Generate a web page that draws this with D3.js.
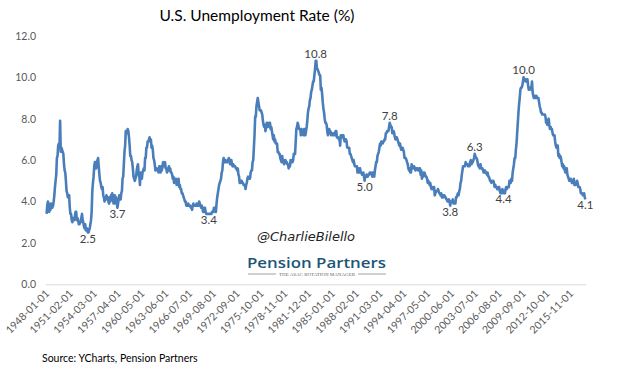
<!DOCTYPE html>
<html><head><meta charset="utf-8">
<script src="https://cdn.jsdelivr.net/npm/d3@7/dist/d3.min.js"></script>
<style>
html,body{margin:0;padding:0;background:#fff;}
svg{display:block;}
</style></head>
<body>
<svg id="chart" width="628" height="381"></svg>
<script>
const title = "U.S. Unemployment Rate (%)";
const startYear = 1948;
// Monthly U.S. unemployment rate, Jan 1948 - Oct 2017 (one row per year)
const rates = [
3.4,3.8,4.0,3.9,3.5,3.6,3.6,3.9,3.8,3.7,3.8,4.0,
4.3,4.7,5.0,5.3,6.1,6.2,6.7,6.8,6.6,7.9,6.4,6.6,
6.5,6.4,6.3,5.8,5.5,5.4,5.0,4.5,4.4,4.2,4.2,4.3,
3.7,3.4,3.4,3.1,3.0,3.2,3.1,3.1,3.3,3.5,3.5,3.1,
3.2,3.1,2.9,2.9,3.0,3.0,3.2,3.4,3.1,3.0,2.8,2.7,
2.9,2.6,2.6,2.7,2.5,2.5,2.6,2.7,2.9,3.1,3.5,4.5,
4.9,5.2,5.7,5.9,5.9,5.6,5.8,6.0,6.1,5.7,5.3,5.0,
4.9,4.7,4.6,4.7,4.3,4.2,4.0,4.2,4.1,4.3,4.2,4.2,
4.0,3.9,4.2,4.0,4.3,4.3,4.4,4.1,3.9,3.9,4.3,4.2,
4.2,3.9,3.7,3.9,4.1,4.3,4.2,4.1,4.4,4.5,5.1,5.2,
5.8,6.4,6.7,7.4,7.4,7.3,7.5,7.4,7.1,6.7,6.2,6.2,
6.0,5.9,5.6,5.2,5.1,5.0,5.1,5.2,5.5,5.7,5.8,5.3,
5.2,4.8,5.4,5.2,5.1,5.4,5.5,5.6,5.5,6.1,6.1,6.6,
6.6,6.9,6.9,7.0,7.1,6.9,7.0,6.6,6.7,6.5,6.1,6.0,
5.8,5.5,5.6,5.6,5.5,5.5,5.4,5.7,5.6,5.4,5.7,5.5,
5.7,5.9,5.7,5.7,5.9,5.6,5.6,5.4,5.5,5.5,5.7,5.5,
5.6,5.4,5.4,5.3,5.1,5.2,4.9,5.0,5.1,5.1,4.8,5.0,
4.9,5.1,4.7,4.8,4.6,4.6,4.4,4.4,4.3,4.2,4.1,4.0,
4.0,3.8,3.8,3.8,3.9,3.8,3.8,3.8,3.7,3.7,3.6,3.8,
3.9,3.8,3.8,3.8,3.8,3.9,3.8,3.8,3.8,4.0,3.9,3.8,
3.7,3.8,3.7,3.5,3.5,3.7,3.7,3.5,3.4,3.4,3.4,3.4,
3.4,3.4,3.4,3.4,3.4,3.5,3.5,3.5,3.7,3.7,3.5,3.5,
3.9,4.2,4.4,4.6,4.8,4.9,5.0,5.1,5.4,5.5,5.9,6.1,
5.9,5.9,6.0,5.9,5.9,5.9,6.0,6.1,6.0,5.8,6.0,6.0,
5.8,5.7,5.8,5.7,5.7,5.7,5.6,5.6,5.5,5.6,5.3,5.2,
4.9,5.0,4.9,5.0,4.9,4.9,4.8,4.8,4.8,4.6,4.8,4.9,
5.1,5.2,5.1,5.1,5.1,5.4,5.5,5.5,5.9,6.0,6.6,7.2,
8.1,8.1,8.6,8.8,9.0,8.8,8.6,8.4,8.4,8.4,8.3,8.2,
7.9,7.7,7.6,7.7,7.4,7.6,7.8,7.8,7.6,7.7,7.8,7.8,
7.5,7.6,7.4,7.2,7.0,7.2,6.9,7.0,6.8,6.8,6.8,6.4,
6.4,6.3,6.3,6.1,6.0,5.9,6.2,5.9,6.0,5.8,5.9,6.0,
5.9,5.9,5.8,5.8,5.6,5.7,5.7,6.0,5.9,6.0,5.9,6.0,
6.3,6.3,6.3,6.9,7.5,7.6,7.8,7.7,7.5,7.5,7.5,7.2,
7.5,7.4,7.4,7.2,7.5,7.5,7.2,7.4,7.6,7.9,8.3,8.5,
8.6,8.9,9.0,9.3,9.4,9.6,9.8,9.8,10.1,10.4,10.8,10.8,
10.4,10.4,10.3,10.2,10.1,10.1,9.4,9.5,9.2,8.8,8.5,8.3,
8.0,7.8,7.8,7.7,7.4,7.2,7.5,7.5,7.3,7.4,7.2,7.3,
7.3,7.2,7.2,7.3,7.2,7.4,7.4,7.1,7.1,7.1,7.0,7.0,
6.7,7.2,7.2,7.1,7.2,7.2,7.0,6.9,7.0,7.0,6.9,6.6,
6.6,6.6,6.6,6.3,6.3,6.2,6.1,6.0,5.9,6.0,5.8,5.7,
5.7,5.7,5.7,5.4,5.6,5.4,5.4,5.6,5.4,5.4,5.3,5.3,
5.4,5.2,5.0,5.2,5.2,5.3,5.2,5.2,5.3,5.3,5.4,5.4,
5.4,5.3,5.2,5.4,5.4,5.2,5.5,5.7,5.9,5.9,6.2,6.3,
6.4,6.6,6.8,6.7,6.9,6.9,6.8,6.9,6.9,7.0,7.0,7.3,
7.3,7.4,7.4,7.4,7.6,7.8,7.7,7.6,7.6,7.3,7.4,7.4,
7.3,7.1,7.0,7.1,7.1,7.0,6.9,6.8,6.7,6.8,6.6,6.5,
6.6,6.6,6.5,6.4,6.1,6.1,6.1,6.0,5.9,5.8,5.6,5.5,
5.6,5.4,5.4,5.8,5.6,5.6,5.7,5.7,5.6,5.5,5.6,5.6,
5.6,5.5,5.5,5.6,5.6,5.3,5.5,5.1,5.2,5.2,5.4,5.4,
5.3,5.2,5.2,5.1,4.9,5.0,4.9,4.8,4.9,4.7,4.6,4.7,
4.6,4.6,4.7,4.3,4.4,4.5,4.5,4.5,4.6,4.5,4.4,4.4,
4.3,4.4,4.2,4.3,4.2,4.3,4.3,4.2,4.2,4.1,4.1,4.0,
4.0,4.1,4.0,3.8,4.0,4.0,4.0,4.1,3.9,3.9,3.9,3.9,
4.2,4.2,4.3,4.4,4.3,4.5,4.6,4.9,5.0,5.3,5.5,5.7,
5.7,5.7,5.7,5.9,5.8,5.8,5.8,5.7,5.7,5.7,5.9,6.0,
5.8,5.9,5.9,6.0,6.1,6.3,6.2,6.1,6.1,6.0,5.8,5.7,
5.7,5.6,5.8,5.6,5.6,5.6,5.5,5.4,5.4,5.5,5.4,5.4,
5.3,5.4,5.2,5.2,5.1,5.0,5.0,4.9,5.0,5.0,5.0,4.9,
4.7,4.8,4.7,4.7,4.6,4.6,4.7,4.7,4.5,4.4,4.5,4.4,
4.6,4.5,4.4,4.5,4.4,4.6,4.7,4.6,4.7,4.7,4.7,5.0,
5.0,4.9,5.1,5.0,5.4,5.6,5.8,6.1,6.1,6.5,6.8,7.3,
7.8,8.3,8.7,9.0,9.4,9.5,9.5,9.6,9.8,10.0,9.9,9.9,
9.8,9.8,9.9,9.9,9.6,9.4,9.4,9.5,9.5,9.4,9.8,9.3,
9.1,9.0,9.0,9.1,9.0,9.1,9.0,9.0,9.0,8.8,8.6,8.5,
8.3,8.3,8.2,8.2,8.2,8.2,8.2,8.1,7.8,7.8,7.7,7.9,
8.0,7.7,7.5,7.6,7.5,7.5,7.3,7.2,7.2,7.2,6.9,6.7,
6.6,6.7,6.7,6.2,6.3,6.1,6.2,6.1,5.9,5.7,5.8,5.6,
5.7,5.5,5.4,5.4,5.6,5.3,5.2,5.1,5.0,5.0,5.1,5.0,
4.9,4.9,5.0,5.1,4.8,4.9,4.8,4.9,5.0,4.9,4.7,4.7,
4.7,4.6,4.4,4.4,4.4,4.3,4.3,4.4,4.2,4.1
];
const xTickLabels = ["1948-01-01","1951-02-01","1954-03-01","1957-04-01","1960-05-01","1963-06-01",
"1966-07-01","1969-08-01","1972-09-01","1975-10-01","1978-11-01","1981-12-01","1985-01-01",
"1988-02-01","1991-03-01","1994-04-01","1997-05-01","2000-06-01","2003-07-01","2006-08-01",
"2009-09-01","2012-10-01","2015-11-01"];
const yTicks = [0,2,4,6,8,10,12];
const annoDates = ["1953-05-01","1957-03-01","1969-01-01","1982-11-01","1989-03-01","1992-06-01",
"2000-04-01","2003-06-01","2007-03-01","2009-10-01","2017-10-01"];
const annoValues = [2.5,3.7,3.4,10.8,5.0,7.8,3.8,6.3,4.4,10.0,4.1];
const annoSide = ["below","below","below","above","below","above","below","above","below","above","below"];
const sourceText = "Source: YCharts, Pension Partners";
const handle = "@CharlieBilello";
const brand = "Pension Partners";
const tagline = "THE ASAC ROTATION MANAGER";

// category labels (dates) for each monthly point
const dates = rates.map((_, i) => {
  const y = startYear + Math.floor(i / 12), m = i % 12 + 1;
  return y + "-" + String(m).padStart(2, "0") + "-01";
});
const data = rates.map((v, i) => ({date: dates[i], value: v}));

const svg = d3.select("#chart");
const font = "Lato, 'Open Sans', sans-serif";

const x = d3.scalePoint().domain(dates).range([46.6, 585.4]);
const y = d3.scaleLinear().domain([0, 12]).range([284.3, 35.9]);

// title
svg.append("text").attr("x", 257).attr("y", 21).attr("text-anchor", "middle")
  .attr("font-family", font).attr("font-size", 15.5).attr("fill", "#000").text(title);

// y axis labels
const yAxis = d3.axisLeft(y).tickValues(yTicks).tickFormat(d3.format(".1f")).tickSize(0).tickPadding(0);
const gy = svg.append("g").attr("transform", "translate(36,0)").call(yAxis);
gy.select(".domain").remove();
gy.selectAll("text").attr("font-family", font).attr("font-size", 10.5).attr("fill", "#595959");

// x axis
const xAxis = d3.axisBottom(x).tickValues(xTickLabels).tickSize(0).tickPadding(0);
const gx = svg.append("g").attr("transform", "translate(0,284.3)").call(xAxis);
gx.select(".domain").attr("stroke", "#d9d9d9").attr("stroke-width", 1)
  .attr("d", "M46,0.5H586");
gx.selectAll("text").attr("font-family", font).attr("font-size", 10.5).attr("fill", "#595959")
  .attr("text-anchor", "end").attr("dy", null)
  .attr("transform", "translate(3,10) rotate(-45)");

// watermark
svg.append("text").attr("x", 306).attr("y", 241).attr("text-anchor", "middle")
  .attr("font-family", "'DejaVu Sans', sans-serif").attr("font-style", "italic")
  .attr("font-size", 13).attr("fill", "#222").text(handle);
svg.append("text").attr("x", 247).attr("y", 267.5)
  .attr("font-family", "'Open Sans', sans-serif").attr("font-weight", 600)
  .attr("font-size", 14).attr("fill", "#1d5577")
  .attr("textLength", 139).attr("lengthAdjust", "spacingAndGlyphs").text(brand);
svg.append("line").attr("x1", 248).attr("x2", 276).attr("y1", 274).attr("y2", 274)
  .attr("stroke", "#888").attr("stroke-width", 0.8);
svg.append("line").attr("x1", 358).attr("x2", 386).attr("y1", 274).attr("y2", 274)
  .attr("stroke", "#888").attr("stroke-width", 0.8);
svg.append("text").attr("x", 317).attr("y", 276).attr("text-anchor", "middle")
  .attr("font-family", "'Liberation Serif', serif").attr("font-size", 4).attr("fill", "#666")
  .attr("textLength", 76).attr("lengthAdjust", "spacingAndGlyphs").text(tagline);

// line
const line = d3.line().x(d => x(d.date)).y(d => y(d.value));
svg.append("path").datum(data).attr("d", line).attr("fill", "none")
  .attr("stroke", "#4a7ebb").attr("stroke-width", 2.6).attr("stroke-linejoin", "round");

// annotations
svg.append("g").selectAll("text").data(annoDates).join("text")
  .attr("x", d => x(d))
  .attr("y", (d, i) => y(annoValues[i]) + (annoSide[i] === "above" ? -3 : 10))
  .attr("text-anchor", "middle").attr("font-family", font).attr("font-size", 11.5)
  .attr("fill", "#404040").text((d, i) => d3.format(".1f")(annoValues[i]));

// source
svg.append("text").attr("x", 42).attr("y", 362).attr("font-family", font)
  .attr("font-size", 10.5).attr("fill", "#000").text(sourceText);
</script>
</body></html>
